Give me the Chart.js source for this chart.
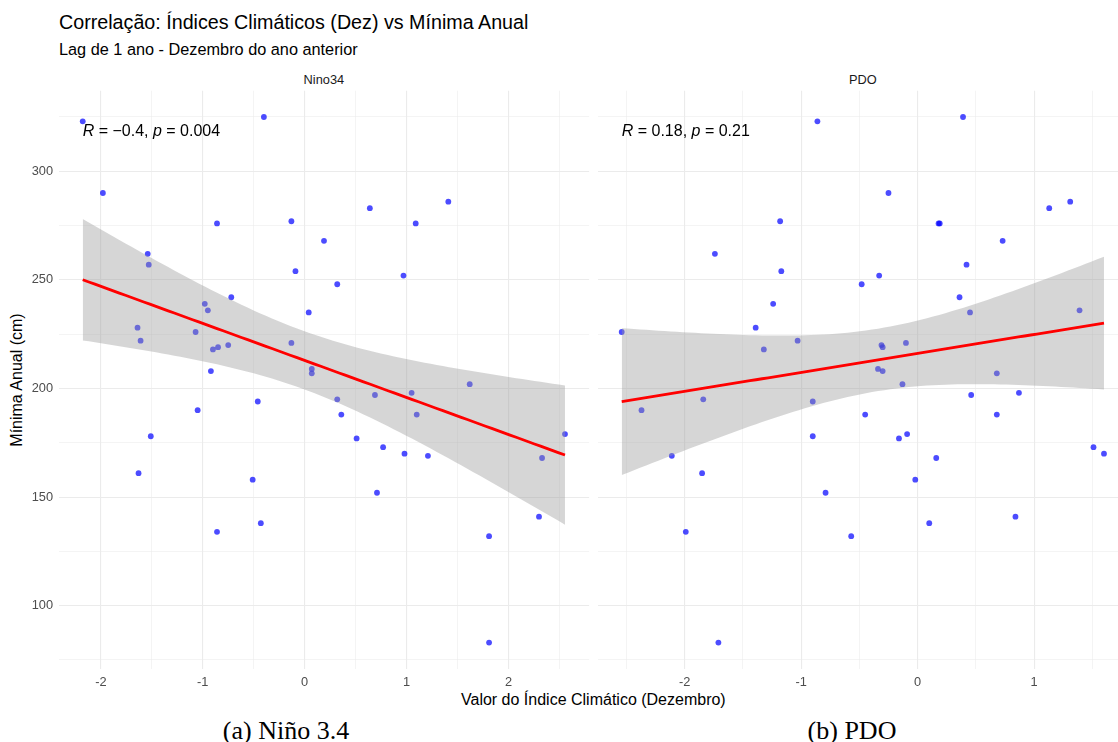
<!DOCTYPE html>
<html>
<head>
<meta charset="utf-8">
<script src="https://cdn.jsdelivr.net/npm/chart.js@4.4.1/dist/chart.umd.min.js"></script>
<style>
  html, body { margin: 0; padding: 0; background: #fff; }
  body { width: 1118px; height: 742px; overflow: hidden; position: relative;
         font-family: "Liberation Sans", Arial, sans-serif; }
  canvas { position: absolute; top: 0; }
  .t { position: absolute; white-space: nowrap; line-height: 1; color: #000; }
  .strip { font-size: 12.8px; color: #1A1A1A; transform: translateX(-50%); }
  .cap { font-family: "Liberation Serif", "Times New Roman", serif; font-size: 26px; transform: translateX(-50%); }
</style>
</head>
<body>
<div class="t" style="left:59px;top:12.7px;font-size:19.7px;">Correlação: Índices Climáticos (Dez) vs Mínima Anual</div>
<div class="t" style="left:59px;top:40.6px;font-size:16.3px;">Lag de 1 ano - Dezembro do ano anterior</div>
<div class="t strip" id="stripLeft" style="left:324px;top:73.5px;">Nino34</div>
<div class="t strip" id="stripRight" style="left:863px;top:73.5px;">PDO</div>
<div class="t" id="xTitle" style="left:593.5px;top:691.5px;font-size:16px;transform:translateX(-50%);">Valor do Índice Climático (Dezembro)</div>
<div class="t" style="left:17px;top:379.8px;font-size:16px;transform:translate(-50%,-50%) rotate(-90deg);">Mínima Anual (cm)</div>
<div class="t cap" style="left:286px;top:718px;">(a) Niño 3.4</div>
<div class="t cap" style="left:852px;top:718px;">(b) PDO</div>

<canvas id="left" width="592" height="742" style="left:0;"></canvas>
<canvas id="right" width="540" height="742" style="left:592px;"></canvas>

<script>
// Annual minimum level (cm), one value per year
const minimaAnual = [83, 132, 134, 138, 141, 152, 158, 161, 168, 169, 170, 173, 177, 178, 179, 188, 188,
  190, 194, 195, 197, 198, 202, 207, 208, 209, 218, 219, 220, 221, 222, 226, 228, 235, 236, 239, 242,
  248, 252, 254, 257, 262, 268, 276, 276, 277, 283, 286, 290, 323, 325];

// Niño 3.4 index, December of the previous year
const nino34Dez = [1.81, 1.81, -0.86, -0.43, 2.30, 0.71, -0.51, -1.63, 2.33, 1.21, 0.98, 0.77, 0.51,
  -1.51, 2.555, 0.36, 1.10, -1.05, -0.46, 0.32, 0.69, 1.05, 1.62, 0.07, -0.92, 0.07, -0.90, -0.85,
  -0.75, -0.13, -1.61, -1.07, -1.64, 0.04, -0.95, -0.98, -0.72, 0.32, 0.97, -0.09, -1.53, -1.54, 0.19,
  -0.86, 1.09, -0.13, 0.64, 1.41, -1.98, -2.178, -0.40];

// PDO index, December of the previous year
const pdoDez = [-1.71, -0.57, -1.99, 0.10, 0.84, -0.79, -0.02, -1.85, 0.16, -2.11, 1.60, 1.51, -0.16,
  -0.90, -0.09, -0.45, 0.68, -2.37, -0.90, -1.84, 0.46, 0.87, -0.13, 0.68, -0.30, -0.34, -1.32, -0.30,
  -0.31, -0.10, -1.03, -2.54, -1.39, 0.45, 1.39, -1.24, 0.36, -0.48, -0.33, -1.17, 0.42, -1.74, 0.73,
  0.18, 0.19, -1.18, 1.13, 1.31, -0.25, -0.86, 0.39];

// Tick labels
const ninoTicks = [-2, -1, 0, 1, 2];
const pdoTicks = [-2, -1, 0, 1];
const yTicks = [100, 150, 200, 250, 300];

// Correlation labels
const ninoCorr = { r: '\u22120.4', p: '0.004' };
const pdoCorr = { r: '0.18', p: '0.21' };

// Student t quantile (0.975) for 49 degrees of freedom
const T975 = 2.0096;

function linearFit(xs, ys) {
  const n = xs.length;
  const mx = xs.reduce((a, b) => a + b, 0) / n;
  const my = ys.reduce((a, b) => a + b, 0) / n;
  let sxx = 0, sxy = 0;
  for (let i = 0; i < n; i++) {
    sxx += (xs[i] - mx) ** 2;
    sxy += (xs[i] - mx) * (ys[i] - my);
  }
  const b = sxy / sxx, a = my - b * mx;
  let sse = 0;
  for (let i = 0; i < n; i++) sse += (ys[i] - a - b * xs[i]) ** 2;
  return { a, b, mx, sxx, n, s: Math.sqrt(sse / (n - 2)) };
}

function fitCurves(xs, ys) {
  const f = linearFit(xs, ys);
  const lo = Math.min(...xs), hi = Math.max(...xs);
  const upper = [], lower = [], line = [];
  const steps = 80;
  for (let k = 0; k < steps; k++) {
    const x = lo + (hi - lo) * k / (steps - 1);
    const yHat = f.a + f.b * x;
    const se = f.s * Math.sqrt(1 / f.n + (x - f.mx) ** 2 / f.sxx);
    upper.push({ x, y: yHat + T975 * se });
    lower.push({ x, y: yHat - T975 * se });
    line.push({ x, y: yHat });
  }
  return { upper, lower, line };
}

function expandedRange(vals) {
  const lo = Math.min(...vals), hi = Math.max(...vals);
  const pad = (hi - lo) * 0.05;
  return [lo - pad, hi + pad];
}

// Major ticks plus half-step minor grid lines inside the range
function gridValues(majors, step, range) {
  const out = new Set();
  majors.forEach(v => { out.add(v); out.add(v - step / 2); out.add(v + step / 2); });
  return [...out].filter(v => v >= range[0] && v <= range[1]).sort((a, b) => a - b);
}

const corrLabel = {
  id: 'corrLabel',
  afterDatasetsDraw(chart, args, opts) {
    const { ctx, scales: { x, y } } = chart;
    let cx = x.getPixelForValue(opts.xAt);
    const by = y.getPixelForValue(opts.yAt) + opts.dy;
    ctx.save();
    ctx.fillStyle = '#000';
    ctx.textBaseline = 'alphabetic';
    ctx.textAlign = 'left';
    for (const [txt, italic] of opts.parts) {
      ctx.font = (italic ? 'italic ' : '') + opts.size + 'px "Liberation Sans", Arial, sans-serif';
      ctx.fillText(txt, cx, by);
      cx += ctx.measureText(txt).width;
    }
    ctx.restore();
  }
};

Chart.defaults.font.family = '"Liberation Sans", Arial, sans-serif';
Chart.defaults.font.size = 12.8;
Chart.defaults.color = '#4D4D4D';

const yRange = expandedRange(minimaAnual);
const yGrid = gridValues(yTicks, 50, yRange);

function makePanel(canvasId, xs, majors, corr, showY, pad) {
  const xRange = expandedRange(xs);
  const xGrid = gridValues(majors, 1, xRange);
  const curves = fitCurves(xs, minimaAnual);
  const pts = xs.map((x, i) => ({ x, y: minimaAnual[i] }));
  const majX = new Set(majors), majY = new Set(yTicks);

  return new Chart(document.getElementById(canvasId), {
    type: 'scatter',
    data: {
      datasets: [
        { data: pts, backgroundColor: 'rgba(0,0,255,0.7)', borderWidth: 0,
          pointRadius: 2.9, pointHoverRadius: 2.9, order: 3 },
        { type: 'line', data: curves.upper, showLine: true, borderColor: 'rgba(0,0,0,0)',
          borderWidth: 1, pointRadius: 0, fill: false, tension: 0, order: 2 },
        { type: 'line', data: curves.lower, showLine: true, borderColor: 'rgba(0,0,0,0)',
          borderWidth: 1, pointRadius: 0, fill: '-1', backgroundColor: 'rgba(153,153,153,0.4)',
          tension: 0, order: 2 },
        { type: 'line', data: curves.line, showLine: true, borderColor: '#FF0000',
          borderWidth: 2.8, pointRadius: 0, fill: false, tension: 0, order: 1 }
      ]
    },
    options: {
      responsive: false,
      animation: false,
      devicePixelRatio: 1,
      events: [],
      layout: { padding: pad },
      plugins: {
        legend: { display: false },
        tooltip: { enabled: false },
        corrLabel: {
          xAt: Math.min(...xs), yAt: Math.max(...minimaAnual), dy: 18.7, size: 16,
          parts: [['R', true], [' = ' + corr.r + ', ', false], ['p', true], [' = ' + corr.p, false]]
        }
      },
      scales: {
        x: {
          type: 'linear', min: xRange[0], max: xRange[1],
          afterBuildTicks: s => { s.ticks = xGrid.map(v => ({ value: v })); },
          afterFit: s => { s.height = 30; },
          ticks: { padding: 6, maxRotation: 0, autoSkip: false,
                   callback: v => majX.has(v) ? String(v) : '' },
          grid: { color: '#EBEBEB', drawTicks: false,
                  lineWidth: c => (c.tick && majX.has(c.tick.value)) ? 1.1 : 0.55 },
          border: { display: false }
        },
        y: {
          type: 'linear', min: yRange[0], max: yRange[1],
          afterBuildTicks: s => { s.ticks = yGrid.map(v => ({ value: v })); },
          afterFit: s => { s.width = showY ? 58.6 : 0; },
          ticks: { display: showY, padding: 5.6, autoSkip: false,
                   callback: v => majY.has(v) ? String(v) : '' },
          grid: { color: '#EBEBEB', drawTicks: false,
                  lineWidth: c => (c.tick && majY.has(c.tick.value)) ? 1.1 : 0.55 },
          border: { display: false }
        }
      }
    },
    plugins: [corrLabel]
  });
}

const leftChart = makePanel('left', nino34Dez, ninoTicks, ninoCorr, true,
  { left: 0, right: 2.6, top: 90.7, bottom: 43.1 });
const rightChart = makePanel('right', pdoDez, pdoTicks, pdoCorr, false,
  { left: 5.6, right: 3.9, top: 90.7, bottom: 43.1 });

// Facet strip labels centred over each panel
const la = leftChart.chartArea, ra = rightChart.chartArea;
document.getElementById('stripLeft').style.left = ((la.left + la.right) / 2) + 'px';
document.getElementById('stripRight').style.left = (592 + (ra.left + ra.right) / 2) + 'px';
document.getElementById('xTitle').style.left = ((la.left + 592 + ra.right) / 2) + 'px';
</script>
</body>
</html>
